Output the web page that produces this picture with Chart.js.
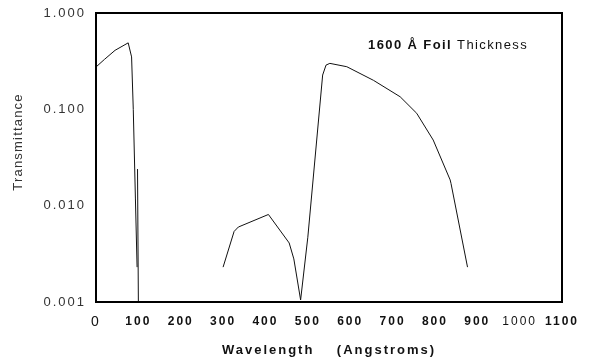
<!DOCTYPE html>
<html>
<head>
<meta charset="utf-8">
<script src="https://cdn.jsdelivr.net/npm/chart.js@4.4.1/dist/chart.umd.min.js"></script>
<style>
  html, body { margin: 0; padding: 0; background: #fff; }
  #wrap { width: 593px; height: 363px; }
</style>
</head>
<body>
<div id="wrap"><canvas id="chart" width="593" height="363"></canvas></div>
<script>
// Transmittance of a 1600 A foil

// short band below 100 A
const bandAWave = [0, 0, 20, 45, 76, 84, 88, 93, 97];
const bandATrans = [0.0023, 0.275, 0.33, 0.41, 0.49, 0.35, 0.1, 0.012, 0.0023];

// little stub right at the 100 A edge
const edgeWave = [98, 100];
const edgeTrans = [0.024, 0.001];

// main band 300 - 880 A
const bandBWave = [300, 326, 336, 407, 456, 467, 483, 500, 535, 543, 552, 592, 655, 718, 757, 796, 836, 838, 877];
const bandBTrans = [0.0023, 0.0054, 0.006, 0.0081, 0.0041, 0.0028, 0.00105, 0.0047, 0.227, 0.288, 0.30, 0.277, 0.20, 0.135, 0.091, 0.048, 0.0185, 0.017, 0.0023];

const yTicks = [0.001, 0.01, 0.1, 1];

const FONT = '"Liberation Sans", Arial, sans-serif';

function toPoints(xs, ys) {
    return xs.map((x, i) => ({ x: x, y: ys[i] }));
}

function lineSet(xs, ys) {
    return {
        data: toPoints(xs, ys),
        borderColor: '#111',
        borderWidth: 1,
        pointRadius: 0,
        fill: false,
        tension: 0
    };
}

// letter spacing for the old typewriter-ish labels
const spacingPlugin = {
    id: 'spacing',
    beforeDraw(chart) {
        chart.ctx.letterSpacing = '2px';
    },
    afterDraw(chart) {
        chart.ctx.letterSpacing = '0px';
    }
};

// frame round the plot, the y title and the note in the corner
const framePlugin = {
    id: 'frame',
    afterDraw(chart) {
        const ctx = chart.ctx;
        const a = chart.chartArea;
        ctx.save();
        ctx.strokeStyle = '#000';
        ctx.lineWidth = 2;
        ctx.strokeRect(a.left, a.top, a.right - a.left, a.bottom - a.top);

        // y axis title, sits a bit above the middle in the original
        ctx.save();
        ctx.translate(18, a.top + 129);
        ctx.rotate(-Math.PI / 2);
        ctx.letterSpacing = '1.2px';
        ctx.font = '13px ' + FONT;
        ctx.fillStyle = '#333';
        ctx.textAlign = 'center';
        ctx.textBaseline = 'middle';
        ctx.fillText('Transmittance', 0, 0);
        ctx.restore();

        ctx.letterSpacing = '1.4px';
        ctx.fillStyle = '#111';
        ctx.textBaseline = 'middle';
        ctx.textAlign = 'left';
        let x = a.left + 272;
        const y = a.top + 32;
        ctx.font = 'bold 13px ' + FONT;
        const boldPart = '1600 Å Foil ';
        ctx.fillText(boldPart, x, y);
        x += ctx.measureText(boldPart).width;
        ctx.font = '13px ' + FONT;
        ctx.fillText('Thickness', x, y);
        ctx.restore();
    }
};

new Chart(document.getElementById('chart'), {
    type: 'line',
    data: {
        datasets: [
            lineSet(bandAWave, bandATrans),
            lineSet(edgeWave, edgeTrans),
            lineSet(bandBWave, bandBTrans)
        ]
    },
    options: {
        responsive: false,
        animation: false,
        layout: {
            padding: { top: 13, right: 31, left: 0, bottom: 0 }
        },
        plugins: {
            legend: { display: false },
            tooltip: { enabled: false }
        },
        scales: {
            x: {
                type: 'linear',
                min: 0,
                max: 1100,
                grid: { display: false },
                border: { display: false },
                ticks: {
                    stepSize: 100,
                    padding: 4,
                    color: '#111',
                    maxRotation: 0,
                    autoSkip: false,
                    callback: (v) => String(v),
                    font: (c) => ({
                        family: FONT,
                        size: (c.tick && c.tick.value === 0) ? 14 : 12,
                        weight: (c.tick && (c.tick.value === 0 || c.tick.value === 1000)) ? 'normal' : 'bold'
                    })
                },
                title: {
                    display: true,
                    text: 'Wavelength    (Angstroms)',
                    color: '#111',
                    font: { family: FONT, size: 13, weight: 'bold' },
                    padding: { top: 0, bottom: 5 }
                },
                afterFit(scale) {
                    scale.height = 61;
                }
            },
            y: {
                type: 'logarithmic',
                min: 0.001,
                max: 1,
                grid: { display: false },
                border: { display: false },
                afterBuildTicks(scale) {
                    scale.ticks = yTicks.map(v => ({ value: v }));
                },
                ticks: {
                    padding: 2,
                    color: '#333',
                    font: { family: FONT, size: 13 },
                    callback: (v) => Number(v).toFixed(3)
                },
                afterFit(scale) {
                    scale.width = 96;
                }
            }
        }
    },
    plugins: [spacingPlugin, framePlugin]
});
</script>
</body>
</html>
